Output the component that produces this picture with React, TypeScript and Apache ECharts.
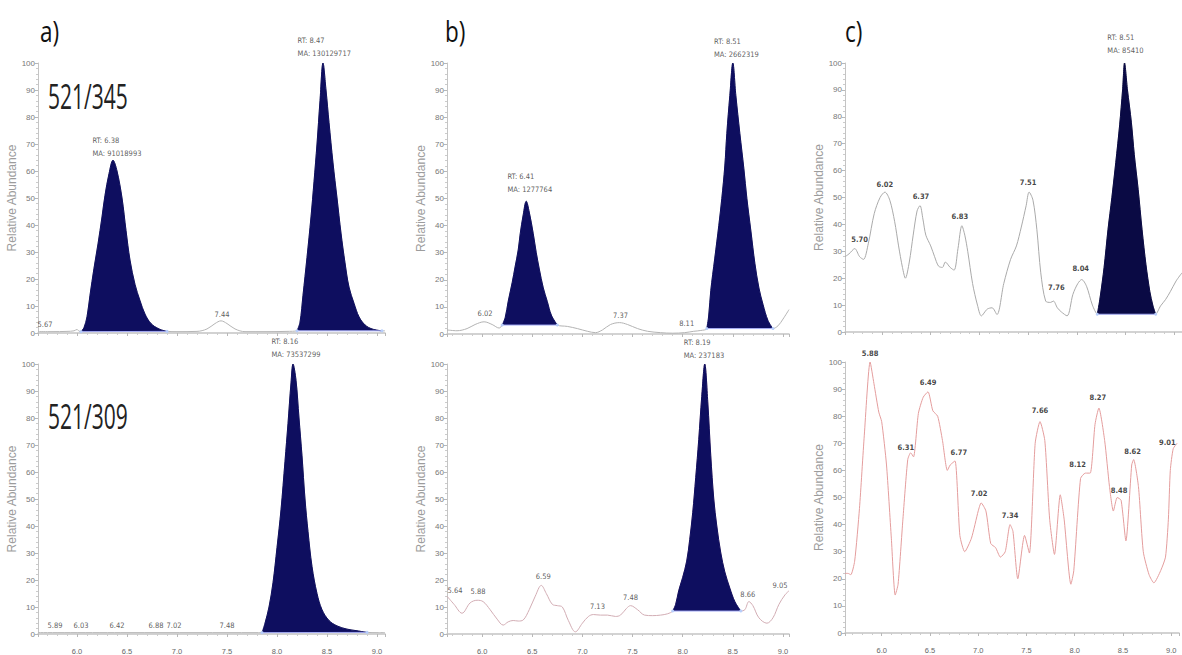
import React, { useEffect, useRef } from "react";
import * as echarts from "echarts";

type Pt = [number, number];
type Lab = [number, number, string];
type RT = [number, number, string, string];

// ---------- texts ----------
const xTickLabels = ["6.0", "6.5", "7.0", "7.5", "8.0", "8.5", "9.0"];
const panelLetters = ["a)", "b)", "c)"];
const transitions = ["521/345", "521/309"];
const yAxisTitle = "Relative Abundance";

// ---------- panel a, top (521/345) ----------
const aTopBase1: Pt[] = [[5.61, 0.5], [5.75, 0.5], [5.9, 0.6], [5.97, 0.8], [6.0, 1.3], [6.02, 0.7]];
const aTopPeak1: Pt[] = [[6.04, 0.5], [6.07, 2], [6.1, 6], [6.13, 14], [6.17, 24], [6.21, 33], [6.25, 43], [6.28, 51], [6.32, 59], [6.36, 64], [6.4, 60], [6.45, 50], [6.49, 38], [6.53, 27], [6.58, 18], [6.63, 12], [6.68, 7], [6.74, 3.5], [6.82, 1.5], [6.9, 0.6]];
const aTopMid: Pt[] = [[7.0, 0.5], [7.2, 0.6], [7.3, 1.5], [7.38, 3.5], [7.44, 4.5], [7.5, 3.5], [7.58, 1.5], [7.68, 0.5], [7.9, 0.5], [8.1, 0.6]];
const aTopPeak2: Pt[] = [[8.2, 0.8], [8.23, 4], [8.26, 14], [8.3, 28], [8.34, 43], [8.37, 56], [8.4, 70], [8.43, 86], [8.46, 100], [8.49, 90], [8.52, 78], [8.56, 63], [8.6, 50], [8.64, 37], [8.68, 26], [8.72, 17], [8.77, 11], [8.82, 6], [8.88, 3], [8.95, 1.5], [9.05, 0.8]];
const aTopTail: Pt[] = [[9.08, 0.8]];
const aTopLabels: Lab[] = [[5.68, 3, "5.67"], [7.45, 6.7, "7.44"]];
const aTopRT: RT[] = [[6.37, 69, "RT: 6.38", "MA: 91018993"], [8.44, 106, "RT: 8.47", "MA: 130129717"]];

// ---------- panel a, bottom (521/309) ----------
const aBotBase1: Pt[] = [[5.61, 0.5], [6.5, 0.5], [7.2, 0.5], [7.8, 0.5]];
const aBotPeak: Pt[] = [[7.85, 0.5], [7.88, 4], [7.92, 10], [7.96, 19], [8.0, 32], [8.04, 46], [8.08, 64], [8.11, 78], [8.14, 93], [8.16, 100], [8.19, 94], [8.22, 80], [8.25, 66], [8.28, 50], [8.31, 38], [8.35, 25], [8.4, 15], [8.45, 9], [8.52, 5], [8.6, 3], [8.7, 1.8], [8.8, 1.2], [8.9, 0.6]];
const aBotTail: Pt[] = [[9.0, 0.5], [9.08, 0.5]];
const aBotLabels: Lab[] = [[5.78, 3, "5.89"], [6.04, 3, "6.03"], [6.4, 3, "6.42"], [6.79, 3, "6.88"], [6.97, 3, "7.02"], [7.5, 3, "7.48"]];
const aBotRT: RT[] = [[8.16, 106, "RT: 8.16", "MA: 73537299"]];

// ---------- panel b, top ----------
const bTopBase1: Pt[] = [[5.65, 1.5], [5.75, 1.2], [5.85, 2], [5.93, 3.5], [6.02, 4.5], [6.1, 3.5], [6.17, 2.2]];
const bTopPeak1: Pt[] = [[6.2, 3.3], [6.23, 6], [6.26, 12], [6.3, 19], [6.33, 25], [6.36, 31], [6.38, 37], [6.41, 44], [6.44, 49], [6.47, 45], [6.51, 37], [6.54, 30], [6.57, 24], [6.61, 17], [6.65, 12], [6.69, 7], [6.75, 3.3]];
const bTopMid: Pt[] = [[6.85, 2.8], [6.95, 2], [7.05, 1], [7.13, 0.5], [7.2, 1.5], [7.28, 3.5], [7.37, 4.2], [7.45, 3.5], [7.55, 2], [7.65, 1], [7.78, 0.5], [7.9, 0.3], [8.02, 0.5], [8.11, 1], [8.18, 1.3]];
const bTopPeak2: Pt[] = [[8.24, 2], [8.26, 7], [8.28, 16], [8.32, 28], [8.36, 40], [8.39, 50], [8.42, 62], [8.44, 74], [8.47, 88], [8.5, 100], [8.53, 88], [8.57, 74], [8.61, 61], [8.64, 50], [8.68, 38], [8.72, 26], [8.76, 17], [8.8, 11], [8.85, 5], [8.9, 2]];
const bTopTail: Pt[] = [[8.95, 3], [9.0, 5.5], [9.06, 9]];
const bTopLabels: Lab[] = [[6.03, 7.7, "6.02"], [7.38, 7, "7.37"], [8.04, 4, "8.11"]];
const bTopRT: RT[] = [[6.45, 55.7, "RT: 6.41", "MA: 1277764"], [8.51, 105.7, "RT: 8.51", "MA: 2662319"]];

// ---------- panel b, bottom ----------
const bBotBase1: Pt[] = [[5.65, 14], [5.72, 11], [5.8, 7.7], [5.88, 11.5], [5.95, 12.5], [6.01, 12], [6.08, 9], [6.15, 5.5], [6.21, 3.3], [6.26, 4.5], [6.31, 5], [6.36, 4.8], [6.41, 5.2], [6.47, 9], [6.53, 14], [6.59, 18], [6.64, 15], [6.7, 11], [6.75, 10.5], [6.8, 10], [6.86, 5], [6.93, 0.8], [7.0, 4], [7.06, 6.5], [7.11, 7.2], [7.18, 7], [7.25, 7], [7.33, 6.5], [7.38, 7], [7.44, 9.5], [7.48, 10.5], [7.55, 9], [7.62, 7], [7.7, 6.8], [7.78, 7], [7.85, 7.5]];
const bBotPeak: Pt[] = [[7.9, 8.5], [7.93, 11], [7.96, 16], [8.0, 21], [8.04, 27], [8.07, 35], [8.1, 45], [8.13, 58], [8.16, 72], [8.19, 88], [8.22, 100], [8.25, 86], [8.28, 66], [8.31, 50], [8.34, 40], [8.38, 30], [8.42, 23], [8.47, 17], [8.52, 12], [8.58, 8.5]];
const bBotTail: Pt[] = [[8.62, 9], [8.66, 12], [8.7, 10.5], [8.76, 6], [8.84, 4], [8.9, 6], [8.96, 11], [9.02, 14.5], [9.06, 16]];
const bBotLabels: Lab[] = [[5.73, 16.2, "5.64"], [5.96, 15.8, "5.88"], [6.61, 21.3, "6.59"], [7.15, 10.3, "7.13"], [7.48, 13.6, "7.48"], [8.65, 14.7, "8.66"], [8.97, 18, "9.05"]];
const bBotRT: RT[] = [[8.19, 105.5, "RT: 8.19", "MA: 237183"]];

// ---------- panel c, top ----------
const cTopBase1: Pt[] = [[5.62, 28], [5.66, 29], [5.72, 31], [5.77, 28], [5.81, 27], [5.86, 33], [5.92, 44], [5.98, 50], [6.03, 52], [6.08, 49], [6.13, 41], [6.17, 32], [6.21, 24], [6.24, 20], [6.28, 26], [6.32, 36], [6.36, 45], [6.39, 47], [6.42, 42], [6.45, 36], [6.5, 32], [6.54, 28], [6.58, 24.5], [6.62, 24], [6.65, 26], [6.7, 24], [6.74, 23], [6.78, 31], [6.82, 39.5], [6.85, 36], [6.88, 30], [6.93, 18], [6.98, 10], [7.02, 6], [7.08, 8.5], [7.13, 9], [7.18, 6.5], [7.25, 18], [7.32, 27], [7.38, 32], [7.43, 39], [7.48, 47], [7.51, 52], [7.55, 49], [7.59, 38], [7.63, 22], [7.68, 11.5], [7.73, 11], [7.76, 11.5], [7.8, 9], [7.84, 7.5], [7.9, 6], [7.96, 14], [8.01, 18], [8.05, 19.5], [8.1, 17], [8.16, 10]];
const cTopPeak: Pt[] = [[8.21, 6.6], [8.24, 13], [8.28, 24], [8.32, 38], [8.36, 50], [8.4, 63], [8.44, 77], [8.47, 90], [8.49, 100], [8.52, 90], [8.56, 78], [8.59, 66], [8.63, 53], [8.67, 38], [8.71, 25], [8.75, 15], [8.78, 10], [8.81, 6.6]];
const cTopTail: Pt[] = [[8.86, 9.7], [8.91, 12], [8.96, 15], [9.02, 19], [9.08, 22]];
const cTopLabels: Lab[] = [[5.77, 34.5, "5.70"], [6.03, 55, "6.02"], [6.4, 50.5, "6.37"], [6.8, 43, "6.83"], [7.5, 55.5, "7.51"], [7.79, 16.7, "7.76"], [8.04, 23.5, "8.04"]];
const cTopRT: RT[] = [[8.48, 107, "RT: 8.51", "MA: 85410"]];

// ---------- panel c, bottom ----------
const cBotLine: Pt[] = [[5.62, 22], [5.65, 22], [5.68, 21.5], [5.72, 26.5], [5.77, 46], [5.82, 73], [5.88, 100], [5.92, 92], [5.97, 81.5], [6.0, 78], [6.05, 62], [6.1, 35], [6.14, 14], [6.17, 18], [6.22, 42], [6.27, 64], [6.3, 66.5], [6.33, 65], [6.38, 81], [6.43, 87], [6.48, 89], [6.53, 82], [6.58, 80], [6.63, 71], [6.68, 60], [6.71, 62], [6.76, 63.5], [6.81, 36], [6.86, 30], [6.93, 35], [7.0, 45], [7.03, 48], [7.08, 45], [7.13, 33], [7.18, 31.5], [7.23, 28], [7.28, 30], [7.33, 40], [7.36, 37.5], [7.41, 20], [7.48, 36], [7.53, 29.5], [7.59, 70], [7.64, 78], [7.69, 71], [7.74, 42], [7.79, 29], [7.85, 51], [7.89, 42], [7.96, 18], [7.99, 23], [8.06, 57], [8.11, 59], [8.16, 59], [8.21, 77], [8.25, 83], [8.31, 71], [8.36, 54], [8.4, 45], [8.44, 50], [8.48, 49], [8.53, 34], [8.59, 62], [8.61, 64], [8.66, 54], [8.71, 30], [8.77, 21.5], [8.82, 18.5], [8.89, 23], [8.94, 28], [8.97, 42], [8.99, 60], [9.02, 68], [9.06, 70]];
const cBotLabels: Lab[] = [[5.88, 103, "5.88"], [6.25, 68.5, "6.31"], [6.48, 92.3, "6.49"], [6.8, 66.5, "6.77"], [7.01, 51.5, "7.02"], [7.33, 43.2, "7.34"], [7.64, 82, "7.66"], [8.03, 62.3, "8.12"], [8.24, 87, "8.27"], [8.46, 52.5, "8.48"], [8.6, 67, "8.62"], [8.96, 70.4, "9.01"]];

// ---------- styling / layout ----------
const FONT = "'Liberation Sans', Arial, sans-serif";
const NARROW = "'Liberation Sans Narrow', 'DejaVu Sans Condensed', 'Liberation Sans', Arial, sans-serif";
const NAVY = "#0e0e5f";
const NAVY_DARK = "#0a0a44";

interface Panel {
  grid: { left: number; top: number; width: number; height: number };
  xMin: number; xMax: number; showX: boolean; nameGap: number;
  segs: Pt[][]; fills: Pt[][]; lineColor: string; fillColor: string;
  labels: Lab[]; rts: RT[]; labelColor: string; labelWeight: string; smooth: number;
}

const panels: Panel[] = [
  { grid: { left: 38, top: 63, width: 347, height: 270 }, xMin: 5.61, xMax: 9.08, showX: false, nameGap: 17,
    segs: [aTopBase1, aTopPeak1, aTopMid, aTopPeak2, aTopTail], fills: [aTopPeak1, aTopPeak2], lineColor: "#b5b5b5", fillColor: NAVY,
    labels: aTopLabels, rts: aTopRT, labelColor: "#333", labelWeight: "normal", smooth: 0.35 },
  { grid: { left: 38, top: 364, width: 347, height: 271 }, xMin: 5.61, xMax: 9.08, showX: true, nameGap: 17,
    segs: [aBotBase1, aBotPeak, aBotTail], fills: [aBotPeak], lineColor: "#b5b5b5", fillColor: NAVY,
    labels: aBotLabels, rts: aBotRT, labelColor: "#333", labelWeight: "normal", smooth: 0.35 },
  { grid: { left: 447, top: 63, width: 342, height: 271 }, xMin: 5.65, xMax: 9.06, showX: false, nameGap: 9,
    segs: [bTopBase1, bTopPeak1, bTopMid, bTopPeak2, bTopTail], fills: [bTopPeak1, bTopPeak2], lineColor: "#b3b3b3", fillColor: NAVY,
    labels: bTopLabels, rts: bTopRT, labelColor: "#333", labelWeight: "normal", smooth: 0.35 },
  { grid: { left: 447, top: 364, width: 342, height: 272 }, xMin: 5.65, xMax: 9.06, showX: true, nameGap: 9,
    segs: [bBotBase1, bBotPeak, bBotTail], fills: [bBotPeak], lineColor: "#d2adb4", fillColor: NAVY,
    labels: bBotLabels, rts: bBotRT, labelColor: "#333", labelWeight: "normal", smooth: 0.35 },
  { grid: { left: 845, top: 63, width: 347, height: 269 }, xMin: 5.62, xMax: 9.08, showX: false, nameGap: 17,
    segs: [cTopBase1, cTopPeak, cTopTail], fills: [cTopPeak], lineColor: "#aaaaaa", fillColor: NAVY_DARK,
    labels: cTopLabels, rts: cTopRT, labelColor: "#111", labelWeight: "bold", smooth: 0.3 },
  { grid: { left: 845, top: 362, width: 347, height: 271 }, xMin: 5.62, xMax: 9.08, showX: true, nameGap: 17,
    segs: [cBotLine], fills: [], lineColor: "#e49d9d", fillColor: NAVY,
    labels: cBotLabels, rts: [], labelColor: "#111", labelWeight: "bold", smooth: 0.2 },
];

function buildOption(): any {
  const grid = panels.map((p) => ({ ...p.grid, containLabel: false }));
  const xAxis = panels.map((p, i) => ({
    type: "value", gridIndex: i, min: p.xMin, max: p.xMax, minInterval: 0.5, maxInterval: 0.5,
    axisLine: { show: true, onZero: true, lineStyle: { color: "#c4c4c4", width: 1.5 } },
    axisTick: { show: true, length: 3, lineStyle: { color: "#b8b8b8" } },
    minorTick: { show: true, splitNumber: 5, length: 2, lineStyle: { color: "#cccccc" } },
    splitLine: { show: false },
    axisLabel: {
      show: p.showX, fontSize: 7.5, color: "#666", fontFamily: FONT, margin: 13,
      formatter: (v: number) => {
        const s = v.toFixed(1);
        return xTickLabels.includes(s) && Math.abs(v - parseFloat(s)) < 1e-6 ? s : "";
      },
    },
  }));
  const yAxis = panels.map((p, i) => ({
    type: "value", gridIndex: i, min: 0, max: 100, interval: 10,
    name: yAxisTitle, nameLocation: "middle", nameGap: p.nameGap,
    nameTextStyle: { fontSize: 12, color: "#9c9c9c", fontFamily: FONT },
    axisLine: { show: true, lineStyle: { color: "#c4c4c4" } },
    axisTick: { show: true, length: 3, lineStyle: { color: "#b8b8b8" } },
    minorTick: { show: true, splitNumber: 5, length: 2, lineStyle: { color: "#cccccc" } },
    splitLine: { show: false },
    axisLabel: { fontSize: 8, color: "#777", fontFamily: FONT, margin: 3 },
  }));

  const series: any[] = [];
  panels.forEach((p, i) => {
    const line: Pt[] = ([] as Pt[]).concat(...p.segs);
    series.push({
      type: "line", xAxisIndex: i, yAxisIndex: i, data: line, symbol: "none", smooth: p.smooth,
      lineStyle: { color: p.lineColor, width: 1 }, silent: true, z: 2,
    });
    p.fills.forEach((f) => {
      const base = f[0][1];
      series.push({
        type: "line", xAxisIndex: i, yAxisIndex: i, data: f, symbol: "none", smooth: p.smooth,
        lineStyle: { color: p.fillColor, width: 1 },
        areaStyle: { color: p.fillColor, opacity: 1, origin: base }, silent: true, z: 3,
      });
      series.push({
        type: "line", xAxisIndex: i, yAxisIndex: i, data: [f[0], f[f.length - 1]],
        symbol: "circle", symbolSize: 3, itemStyle: { color: "#b7cdfa" },
        lineStyle: { color: "#a7aef5", width: 1 }, silent: true, z: 4,
      });
    });
    series.push({
      type: "scatter", xAxisIndex: i, yAxisIndex: i, clip: false, silent: true, z: 6,
      symbolSize: 1, itemStyle: { color: "rgba(0,0,0,0)" },
      data: p.labels.map((l) => ({ value: [l[0], l[1]], name: l[2] })),
      label: { show: true, position: "inside", formatter: "{b}", fontSize: 7.5, fontFamily: NARROW, color: p.labelColor, fontWeight: p.labelWeight },
    });
    if (p.rts.length) {
      series.push({
        type: "scatter", xAxisIndex: i, yAxisIndex: i, clip: false, silent: true, z: 6,
        symbolSize: 1, itemStyle: { color: "rgba(0,0,0,0)" },
        data: p.rts.map((r) => ({
          value: [r[0], r[1]],
          label: {
            show: true, position: "inside",
            formatter: `{t|${r[2]}}\n{t|${r[3]}}`,
            rich: { t: { width: Math.max(r[2].length, r[3].length) * 3.6, align: "left", fontSize: 7.5, lineHeight: 13, fontFamily: NARROW, color: "#333" } },
          },
        })),
        label: { show: true, position: "inside" },
      });
    }
  });

  const letterX = [40, 445, 845];
  const graphic: any[] = [
    ...panelLetters.map((t, k) => ({
      type: "text", x: letterX[k], y: 31, scaleX: 0.75, z: 10,
      style: { text: t, fontSize: 30, fontFamily: "'Open Sans', sans-serif", fill: "#111", align: "left", verticalAlign: "middle" },
    })),
    ...transitions.map((t, k) => ({
      type: "text", x: 48, y: k === 0 ? 95 : 415, scaleX: 0.6, z: 10,
      style: { text: t, fontSize: 35, fontFamily: "'Open Sans', sans-serif", fill: "#222", align: "left", verticalAlign: "middle" },
    })),
  ];

  return { animation: false, backgroundColor: "#ffffff", grid, xAxis, yAxis, series, graphic };
}

export default function App() {
  const ref = useRef<HTMLDivElement>(null);
  useEffect(() => {
    const chart = echarts.init(ref.current as HTMLDivElement, null, { renderer: "svg" });
    chart.setOption(buildOption());
    return () => chart.dispose();
  }, []);
  return (
    <div
      ref={ref}
      style={{ position: "absolute", left: 0, top: 0, width: 1182, height: 655, background: "#fff" }}
    />
  );
}
